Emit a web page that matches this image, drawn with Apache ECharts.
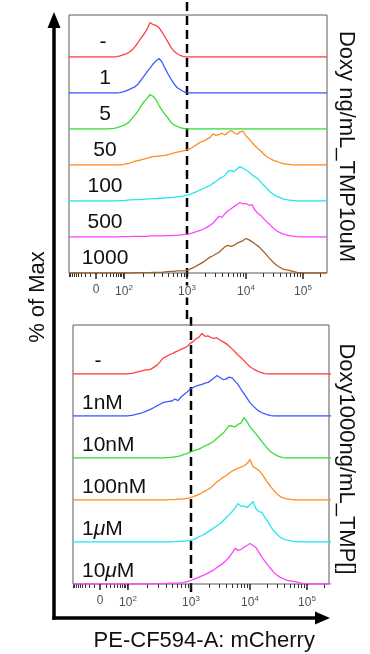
<!DOCTYPE html>
<html>
<head>
<meta charset="utf-8">
<script src="https://cdn.jsdelivr.net/npm/echarts@6/dist/echarts.min.js"></script>
<style>
  html, body { margin: 0; padding: 0; background: #fff; }
  #chart { width: 370px; height: 654px; }
</style>
</head>
<body>
<div id="chart"></div>
<script>
// Histogram bin centres on the biexponential display scale (display units)
const binCenters = [
  -27,-24,-21,-18,-15,-12,-9,-6,-3,0,
  3,6,9,12,15,18,21,24,27,30,
  33,36,39,42,45,48,51,54,57,60,
  63,66,69,72,75,78,81,84,87,90,
  93,96,99,102,105,108,111,114,117,120,
  123,126,129,132,135,138,141,144,147,150,
  153,156,159,162,165,168,171,174,177,180,
  183,186,189,192,195,198,201,204,207,210,
  213,216,219,222,225,228,231
];

// Doxy ng/mL series (TMP 10 uM), % of max per bin
const topNone = [
  0,0,0,0,0,0,0,0,0,0, 0,0,0,0,0,0,1,3,6,9,
  13,20,30,42,55,66,80,100,94,92, 85,72,58,43,28,17,10,5,2,0,
  0,0,0,0,0,0,0,0,0,0, 0,0,0,0,0,0,0,0,0,0,
  0,0,0,0,0,0,0,0,0,0, 0,0,0,0,0,0,0,0,0,0, 0,0,0,0,0,0,0
];
const top1 = [
  0,0,0,0,0,0,0,0,0,0, 0,0,0,0,0,0,0,1,3,6,
  10,14,18,26,37,49,61,72,84,93, 100,90,72,55,40,27,16,10,5,1,
  0,0,0,0,0,0,0,0,0,0, 0,0,0,0,0,0,0,0,0,0,
  0,0,0,0,0,0,0,0,0,0, 0,0,0,0,0,0,0,0,0,0, 0,0,0,0,0,0,0
];
const top5 = [
  0,0,0,0,0,0,0,0,0,0, 0,0,0,0,1,2,4,7,10,14,
  20,30,41,52,67,79,88,100,95,85, 68,55,42,32,19,12,8,4,2,0,
  0,0,0,0,0,0,0,0,0,0, 0,0,0,0,0,0,0,0,0,0,
  0,0,0,0,0,0,0,0,0,0, 0,0,0,0,0,0,0,0,0,0, 0,0,0,0,0,0,0
];
const top50 = [
  0,0,0,0,0,0,0,0,0,0, 0,0,0,0,0,0,0,0,1,3,
  5,8,11,13,15,17,20,22,24,25, 26,27,28,30,32,35,37,39,41,43,
  46,50,56,62,67,70,75,80,90,86, 88,92,87,95,100,94,89,96,98,84,
  76,65,56,47,40,31,24,19,14,11, 8,5,3,2,1,0,0,0,0,0, 0,0,0,0,0,0,0
];
const top100 = [
  0,0,0,0,0,0,0,0,0,0, 0,0,0,0,0,0,0,1,1,2,
  3,3,4,4,5,5,6,6,7,7, 8,8,9,10,10,11,12,13,14,16,
  18,22,25,29,33,37,41,45,51,57, 64,69,74,86,89,85,93,100,95,90,
  84,76,70,64,54,45,36,27,20,15, 11,7,5,3,2,1,0,0,0,0, 0,0,0,0,0,0,0
];
const top500 = [
  0,0,0,0,0,0,0,0,0,0, 0,0,0,0,0,0,0,1,1,1,
  1,2,2,2,2,2,2,3,3,3, 3,3,4,4,4,5,5,6,6,8,
  9,11,14,17,20,24,28,34,40,50, 60,57,68,76,82,88,94,100,96,97,
  92,94,78,68,62,52,43,36,27,19, 14,10,7,5,3,2,1,0,0,0, 0,0,0,0,0,0,0
];
const top1000 = [
  0,0,0,0,0,0,0,0,0,0, 0,0,0,0,0,0,0,0,0,0,
  0,0,1,1,1,1,1,1,2,2, 2,2,3,4,5,5,6,6,6,7,
  10,14,18,23,28,33,40,46,50,55, 60,68,76,80,77,80,86,90,94,100,
  96,91,84,78,70,61,51,41,32,24, 18,13,10,8,6,4,2,1,0,0, 0,0,0,0,0,0,0
];

// TMP series (Doxy 1000 ng/mL), % of max per bin
const bottomNone = [
  0,0,0,0,0,0,0,0,0,0, 0,0,0,0,0,0,0,0,0,1,
  2,4,6,8,10,10,12,17,22,30, 39,43,47,50,54,57,61,64,68,75,
  80,87,91,100,93,94,90,88,89,84, 80,75,69,62,55,47,40,33,25,18,
  13,9,5,3,1,0,0,0,0,0, 0,0,0,0,0,0,0,0,0,0, 0,0,0,0,0,0,0
];
const bottom1nM = [
  0,0,0,0,0,0,0,0,0,0, 0,0,0,0,0,0,0,0,0,1,
  2,4,6,8,11,14,17,21,25,29, 33,35,36,37,42,38,47,53,59,66,
  70,74,76,78,81,83,88,94,100,95, 90,91,96,94,86,78,66,55,44,33,
  25,18,12,8,5,3,1,0,0,0, 0,0,0,0,0,0,0,0,0,0, 0,0,0,0,0,0,0
];
const bottom10nM = [
  0,0,0,0,0,0,0,0,0,0, 0,0,0,0,0,0,0,0,0,0,
  0,0,0,0,0,0,0,0,0,0, 0,1,1,2,3,4,6,9,11,14,
  17,20,22,26,30,33,37,42,49,55, 61,70,80,79,77,83,86,100,90,77,
  68,59,50,40,31,22,15,10,6,3, 1,0,0,0,0,0,0,0,0,0, 0,0,0,0,0,0,0
];
const bottom100nM = [
  0,0,0,0,0,0,0,0,0,0, 0,0,0,0,0,0,0,0,0,0,
  0,0,0,0,0,0,0,0,0,0, 0,0,1,1,1,2,2,3,4,6,
  8,11,14,18,22,26,31,38,45,50, 56,60,66,71,75,79,81,84,90,100,
  82,78,73,64,53,42,32,23,15,9, 5,3,2,1,0,0,0,0,0,0, 0,0,0,0,0,0,0
];
const bottom1uM = [
  0,0,0,0,0,0,0,0,0,0, 0,0,0,0,0,0,0,0,0,0,
  0,0,0,0,0,0,0,0,0,0, 0,0,0,1,1,1,2,2,3,4,
  6,9,13,16,20,25,30,35,40,45, 52,60,67,75,84,95,88,89,85,92,
  100,82,75,73,60,50,37,27,19,12, 8,5,4,2,1,0,0,0,0,0, 0,0,0,0,0,0,0
];
const bottom10uM = [
  0,0,0,0,0,0,0,0,0,0, 0,0,0,0,0,0,0,0,0,0,
  0,0,0,0,0,0,1,1,1,1, 1,1,2,2,2,2,3,4,6,8,
  11,14,17,20,23,27,31,35,41,46, 51,58,66,76,88,83,85,91,95,100,
  95,90,78,66,56,46,37,28,22,17, 13,10,8,7,6,4,2,1,0,0, 0,0,0,0,0,0,0
];

const topRowLabels = ['-', '1', '5', '50', '100', '500', '1000'];
const bottomRowLabels = ['-', '1nM', '10nM', '100nM', '1μM', '10μM'];
const topTitle = 'Doxy ng/mL_TMP10uM';
const bottomTitle = 'Doxy1000ng/mL_TMP[]';
const xTitle = 'PE-CF594-A: mCherry';
const yTitle = '% of Max';
const tickValues = [0, 100, 1000, 10000, 100000];
const tickLabels = ['0', '10^2', '10^3', '10^4', '10^5'];
const gateValue = 1000;

// ---- biexponential display transform (fluorescence -> display units) ----
const LIN_WIDTH = 20;
const decadePos = [[2, 28], [3, 91], [4, 150], [5, 207]];
function toDisplay(v) {
  const a = Math.abs(v);
  if (a <= 100) {
    return Math.sign(v) * decadePos[0][1] * Math.asinh(a / LIN_WIDTH) / Math.asinh(100 / LIN_WIDTH);
  }
  const L = Math.log10(a);
  let k = 0;
  while (k < decadePos.length - 2 && L > decadePos[k + 1][0]) k++;
  const [l0, p0] = decadePos[k];
  const [l1, p1] = decadePos[k + 1];
  return p0 + (L - l0) * (p1 - p0) / (l1 - l0);
}

// minor tick values: linear region around zero, then 2..9 per decade
const minorTickValues = [];
for (let m = 1; m <= 9; m++) { minorTickValues.push(-10 * m, 10 * m); }
for (let e = 2; e <= 5; e++) {
  for (let m = 2; m <= 9; m++) minorTickValues.push(m * Math.pow(10, e));
}

const FONT = '"Liberation Sans", Arial, Helvetica, sans-serif';
const X_MIN = -27;

const palette = {
  red: '#ff4040', blue: '#3d5bff', green: '#38dd38', orange: '#ff8c24',
  cyan: '#22e6f2', magenta: '#ff45ff', brown: '#a0622c'
};

const panels = [
  {
    left: 69, top: 15, width: 258, height: 258, xMax: 231,
    rowStep: 36, peak: 34.5, gateTop: 2, gateBottom: 320,
    labelX: 105, labelAlign: 'center', labelLift: 15,
    title: topTitle, titleY: 146.5,
    rows: [
      { label: topRowLabels[0], values: topNone, color: palette.red },
      { label: topRowLabels[1], values: top1, color: palette.blue },
      { label: topRowLabels[2], values: top5, color: palette.green },
      { label: topRowLabels[3], values: top50, color: palette.orange },
      { label: topRowLabels[4], values: top100, color: palette.cyan },
      { label: topRowLabels[5], values: top500, color: palette.magenta },
      { label: topRowLabels[6], values: top1000, color: palette.brown }
    ]
  },
  {
    left: 73, top: 325, width: 256, height: 259, xMax: 229,
    rowStep: 42, peak: 40.5, gateTop: 317, gateBottom: 608,
    labelX: 82, labelAlign: 'left', labelLift: 13,
    title: bottomTitle, titleY: 459,
    rows: [
      { label: bottomRowLabels[0], values: bottomNone, color: palette.red },
      { label: bottomRowLabels[1], values: bottom1nM, color: palette.blue },
      { label: bottomRowLabels[2], values: bottom10nM, color: palette.green },
      { label: bottomRowLabels[3], values: bottom100nM, color: palette.orange },
      { label: bottomRowLabels[4], values: bottom1uM, color: palette.cyan },
      { label: bottomRowLabels[5], values: bottom10uM, color: palette.magenta }
    ]
  }
];

const grids = [], xAxes = [], yAxes = [], series = [], graphics = [];
function addGrid(g) { g.outerBoundsMode = 'none'; grids.push(g); return grids.length - 1; }
function hiddenAxis(gridIndex, min, max) {
  return { gridIndex, type: 'value', min, max, show: false, splitLine: { show: false } };
}

// Outer L-shaped frame with arrow heads and axis titles
const frame = addGrid({ left: 54, top: 20, width: 268.5, height: 598 });
const frameLine = { color: '#000', width: 3.5, cap: 'square' };
xAxes.push({
  gridIndex: frame, type: 'value', min: 0, max: 1, position: 'bottom',
  axisLine: { show: true, symbol: ['none', 'triangle'], symbolSize: [13, 15], lineStyle: frameLine },
  axisTick: { show: false }, axisLabel: { show: false }, splitLine: { show: false },
  name: xTitle, nameLocation: 'middle', nameGap: 12,
  nameTextStyle: { fontFamily: FONT, fontSize: 22, color: '#111', padding: [0, 0, 0, 32] }
});
yAxes.push({
  gridIndex: frame, type: 'value', min: 0, max: 1, position: 'left',
  axisLine: { show: true, symbol: ['none', 'triangle'], symbolSize: [13, 16], lineStyle: frameLine },
  axisTick: { show: false }, axisLabel: { show: false }, splitLine: { show: false },
  name: yTitle, nameLocation: 'middle', nameRotate: 90, nameGap: 5,
  nameTextStyle: { fontFamily: FONT, fontSize: 22, color: '#111', padding: [0, 0, 0, 44] }
});

function tickLabelRich(s) {
  if (s.indexOf('^') < 0) return '{b|' + s + '}';
  const [base, exp] = s.split('^');
  return '{b|' + base + '}{s|' + exp + '}';
}

panels.forEach(p => {
  const inRange = v => v >= X_MIN && v <= p.xMax;
  const majorPos = tickValues.map(toDisplay);
  const labelByPos = {};
  majorPos.forEach((d, i) => { labelByPos[d.toFixed(3)] = tickLabels[i]; });

  // panel box with the fluorescence axis
  const box = addGrid({
    left: p.left, top: p.top, width: p.width, height: p.height,
    show: true, borderColor: '#5a5a5a', borderWidth: 1, backgroundColor: 'transparent'
  });
  xAxes.push({
    gridIndex: box, type: 'value', min: X_MIN, max: p.xMax, position: 'bottom',
    axisLine: { show: false }, splitLine: { show: false },
    axisTick: { show: true, inside: false, length: 4,
      customValues: minorTickValues.map(toDisplay).filter(inRange),
      lineStyle: { color: '#333', width: 1 } },
    axisLabel: { show: false }
  });
  xAxes.push({
    gridIndex: box, type: 'value', min: X_MIN, max: p.xMax, position: 'bottom', z: 10,
    axisLine: { show: false }, splitLine: { show: false },
    axisTick: { show: true, inside: false, length: 6, customValues: majorPos,
      lineStyle: { color: '#222', width: 1.5 } },
    axisLabel: {
      show: true, customValues: majorPos, margin: 11,
      formatter: v => tickLabelRich(labelByPos[Number(v).toFixed(3)] || ''),
      rich: {
        b: { fontFamily: FONT, fontSize: 12, color: '#505050', backgroundColor: '#fff' },
        s: { fontFamily: FONT, fontSize: 8, color: '#505050', backgroundColor: '#fff', padding: [0, 0, 7, 0] }
      }
    }
  });
  yAxes.push(hiddenAxis(box, 0, 1));

  // gate marker at 10^3 (dashed vertical line), kept beneath the tick labels
  const gate = addGrid({ left: p.left, width: p.width, top: p.gateTop, height: p.gateBottom - p.gateTop });
  xAxes.push(hiddenAxis(gate, X_MIN, p.xMax));
  yAxes.push(hiddenAxis(gate, 0, 1));
  const gx = toDisplay(gateValue);
  series.push({
    type: 'line', xAxisIndex: xAxes.length - 1, yAxisIndex: yAxes.length - 1,
    data: [[gx, 1], [gx, 0]], showSymbol: false, silent: true, z: -1,
    lineStyle: { color: '#000', width: 2.5, type: [9, 5] }
  });

  // stacked histogram rows
  const n = p.rows.length;
  p.rows.forEach((r, k) => {
    const base = p.top + p.height - p.rowStep * (n - 1 - k);
    const g = addGrid({ left: p.left, width: p.width, top: base - p.peak, height: p.peak });
    xAxes.push(hiddenAxis(g, X_MIN, p.xMax));
    yAxes.push(hiddenAxis(g, 0, 100));
    series.push({
      type: 'line', xAxisIndex: xAxes.length - 1, yAxisIndex: yAxes.length - 1,
      data: binCenters.map((x, i) => [x, r.values[i]]),
      showSymbol: false, silent: true, clip: true, z: 3,
      lineStyle: { color: r.color, width: 1.3 }
    });
    const isDash = r.label === '-';
    const align = isDash ? 'center' : p.labelAlign;
    const x = isDash ? (p.labelAlign === 'left' ? 98 : p.labelX - 2) : p.labelX;
    graphics.push({
      type: 'text', x, y: base - p.labelLift, silent: true, z: 10,
      style: {
        text: r.label.replace('μ', '{mu|μ}'),
        fontFamily: FONT, fontSize: 21, fill: '#111',
        align, textAlign: align, verticalAlign: 'middle', textVerticalAlign: 'middle',
        rich: { mu: { fontFamily: FONT, fontSize: 21, fontStyle: 'italic', fill: '#111' } }
      }
    });
  });

  // condition title on the right, reading top to bottom
  graphics.push({
    type: 'text', x: 346, y: p.titleY, rotation: -Math.PI / 2, silent: true,
    style: {
      text: p.title, fontFamily: FONT, fontSize: 22, fill: '#111',
      align: 'center', textAlign: 'center', verticalAlign: 'middle', textVerticalAlign: 'middle'
    }
  });
});

const chart = echarts.init(document.getElementById('chart'), null, { renderer: 'canvas' });
chart.setOption({
  animation: false,
  backgroundColor: '#fff',
  grid: grids,
  xAxis: xAxes,
  yAxis: yAxes,
  series: series,
  graphic: { elements: graphics }
});
</script>
</body>
</html>
